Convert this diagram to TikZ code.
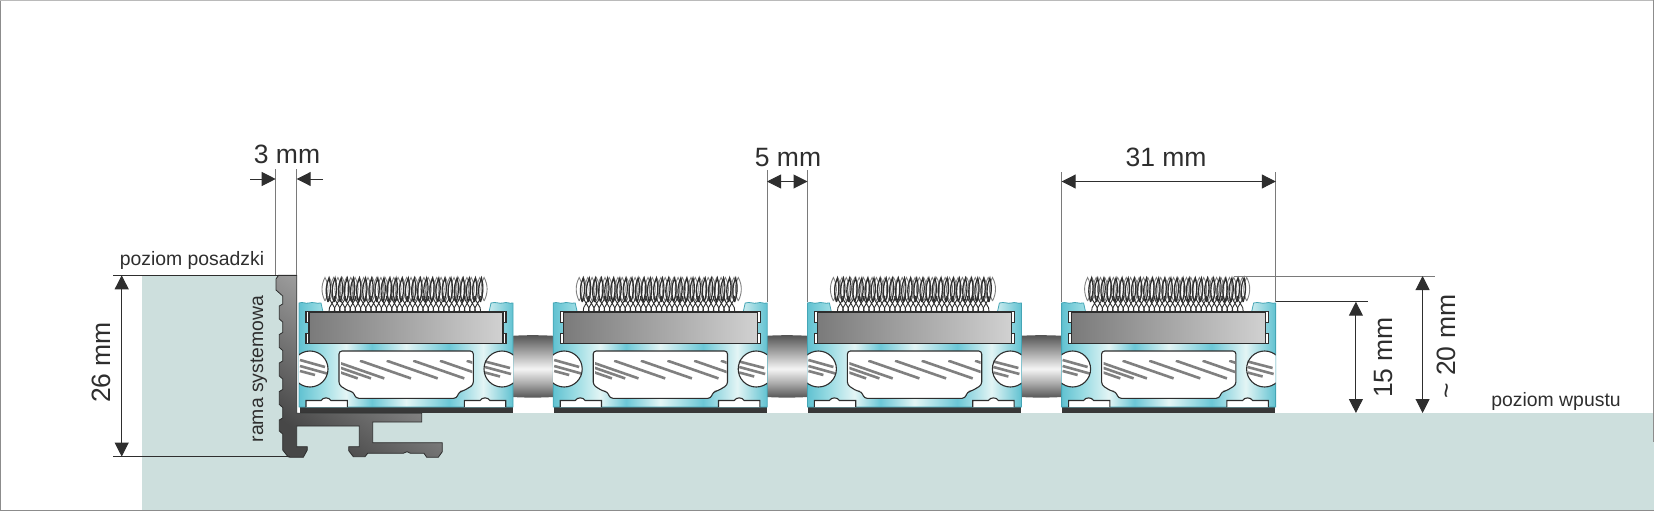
\documentclass[tikz,border=0pt]{standalone}
\usepackage{fontspec}
\setmainfont{Liberation Sans}
\usetikzlibrary{arrows.meta}

\definecolor{grunt}{HTML}{CDDFDD}
\definecolor{ciemny}{HTML}{2E2E2E}
\definecolor{linia}{HTML}{7A7A7A}
\definecolor{ramka}{HTML}{8C8C8C}
\definecolor{brzeg}{HTML}{45A5B5}

\pgfdeclarehorizontalshading{cialo}{100bp}{
  rgb(0bp)=(.38,.76,.82); rgb(25bp)=(.38,.76,.82); rgb(30bp)=(.60,.86,.89); rgb(36bp)=(.89,.96,.96);
  rgb(42bp)=(.42,.78,.84); rgb(50bp)=(.89,.96,.96); rgb(60bp)=(.42,.78,.84);
  rgb(68bp)=(.89,.96,.96); rgb(75bp)=(.38,.76,.82); rgb(100bp)=(.38,.76,.82)}
\pgfdeclareverticalshading{walec}{100bp}{
  rgb(0bp)=(.33,.33,.33); rgb(25bp)=(.33,.33,.33); rgb(37bp)=(.68,.68,.68); rgb(48bp)=(.96,.96,.96);
  rgb(60bp)=(.68,.68,.68); rgb(75bp)=(.33,.33,.33); rgb(100bp)=(.33,.33,.33)}

\tikzset{
  wymiar/.style={font=\fontsize{26.5}{26.5}\selectfont, text=ciemny, anchor=base},
  opis/.style={font=\fontsize{19.4}{19.4}\selectfont, text=ciemny, anchor=base},
  pomocnicza/.style={draw=linia, line width=.9pt},
  poziom/.style={draw=ciemny, line width=.9pt},
  strzalka/.style={draw=ciemny, line width=1pt, -{Triangle[length=14pt,width=14pt]}},
  strzalki/.style={draw=ciemny, line width=1pt, {Triangle[length=14pt,width=14pt]}-{Triangle[length=14pt,width=14pt]}},
  kontur/.style={draw=ciemny, line width=1.1pt},
  kreska/.style={draw=gray, line width=2.6pt},
}

\begin{document}
\begin{tikzpicture}[x=1pt, y=-1pt]
\useasboundingbox (0,0) rectangle (1654,511);

% grunt
\fill[grunt] (142,275.3) -- (296.7,275.3) -- (296.7,413) -- (1654,413) -- (1654,511) -- (142,511) -- cycle;

% ramka obrazka
\draw[ramka, line width=1.4pt] (0.7,0) -- (0.7,511);
\draw[ramka, line width=1.4pt] (0,510.3) -- (1654,510.3);
\draw[ramka!60, line width=1pt] (0,0.5) -- (1654,0.5);
\draw[ramka, line width=1.4pt] (1653.3,0) -- (1653.3,442);

% walce miedzy profilami
\foreach \px in {0,254.2,508.4} {
\begin{scope}[xshift=\px pt]
   \shade[shading=walec] (512.7,335.8) .. controls (525,335) and (540,335) .. (553.5,335.8)
      -- (553.5,397) .. controls (540,397.8) and (525,397.8) .. (512.7,397) -- cycle;
\end{scope}
};

% profile
\foreach \px in {0,254.2,508.4,762.6} {
\begin{scope}[xshift=\px pt]
   \fill[ciemny!95] (299.5,406.5) rectangle (512.7,413);
   \shade[shading=cialo, draw=brzeg, line width=.8pt]
      (299,303) .. controls (303,301.5) and (305,304) .. (309,303)
      .. controls (313,301.5) and (316,304) .. (321,303) -- (323,312) -- (489,312) -- (491,303)
      .. controls (496,301.5) and (499,304) .. (503,303)
      .. controls (507,301.5) and (509,304) .. (513,303)
      -- (513,407) -- (299,407) -- cycle;

   % otwory okragle
   \begin{scope}
   \clip (299,345) rectangle (513,395);
   \fill[white] (310,369) circle (18);
   \fill[white] (502,369) circle (18);
   \draw[kreska] (300,360) -- (325,367);
   \draw[kreska] (300,366) -- (327,373.5);
   \draw[kreska] (300,371) -- (315,375);
   \draw[kreska] (485,361.5) -- (510,368);
   \draw[kreska] (485,367) -- (511,374);
   \draw[kreska] (485,372.5) -- (500,376.5);
   \draw[kontur] (310,369) circle (18);
   \draw[kontur] (502,369) circle (18);
   \end{scope}

   % szczeliny obok wkladki
   \draw[kontur, fill=white] (306,311.7) rectangle (310,322.7);
   \draw[kontur, fill=white] (306,333.3) rectangle (310,343.3);
   \draw[kontur, fill=white] (502,311.7) rectangle (506,322.7);
   \draw[kontur, fill=white] (502,333.3) rectangle (506,343.3);

   % wkladka
   \shade[kontur, left color=black!52, right color=black!18] (309,312) rectangle (503,343.5);

   % okno
   \draw[kontur, fill=white, rounded corners=3pt] (339,351) -- (473.3,351) -- (473.3,385) -- (463.3,391)
      -- (459,391.7) -- (456.7,398.3) -- (355.7,398.3) -- (353.3,391.7) -- (348.3,391) -- (339,385) -- cycle;
   \begin{scope}
   \clip (341,360) rectangle (472.3,379);
   \foreach \s in {-28.3,-15,-1.7,25,51.7,78.3,105,131.7} {
      \draw[kreska] (335+\s,360.7) -- +(51,17.7);
   };
   \end{scope}

   % szczeliny dolne
   \draw[kontur, fill=white] (306,407) -- (306,400.5) -- (321,400.5) .. controls (323,397) and (329,397) .. (331,400.5)
      -- (347.3,400.5) -- (347.3,407);
   \draw[kontur, fill=white] (464.3,407) -- (464.3,400.5) -- (480,400.5) .. controls (482,397) and (488,397) .. (490,400.5)
      -- (505.7,400.5) -- (505.7,407);

   % szczotka
   \foreach \x in {325,329.3,...,485} {
      \draw[gray, line width=.9pt] (\x,301) .. controls (\x-4,293) and (\x-4,285) .. (\x,277.5)
         .. controls (\x+4,285) and (\x+4,293) .. (\x,301);
   };
   \foreach \x in {328,334.1,...,482} {
      \draw[ciemny, line width=1.2pt] (\x,302) .. controls (\x-3,293) and (\x-2,285) .. (\x+1,278)
         .. controls (\x+3,285) and (\x+3,293) .. (\x,302);
   };
   \foreach \x in {329,334.2,...,478} {
      \draw[ciemny, line width=.9pt] (\x,311.5) .. controls (\x-1,306) and (\x+6,302) .. (\x+6,296)
         (\x+6,311.5) .. controls (\x+7,306) and (\x,302) .. (\x,296);
   };
\end{scope}
};

% rama systemowa
\shade[draw=ciemny, line width=.8pt, bottom color=black!72, top color=black!25, shading angle=-35]
   (278.5,275.3) -- (276,279) -- (276,290) -- (282.7,296) -- (282.7,304)
   -- (279.3,306) -- (279.3,319) -- (282.7,322) -- (282.7,332.5)
   -- (279.3,334.5) -- (279.3,347.5) -- (282.7,350.5) -- (282.7,361)
   -- (279.3,363) -- (279.3,376) -- (282.7,379) -- (282.7,389.5)
   -- (279.3,391.5) -- (279.3,404.5) -- (282.7,407.5) -- (282.7,418)
   -- (279.3,420) -- (279.3,431) -- (282.7,434) -- (282.7,450) -- (288,456.7)
   -- (290,457.3) -- (303.3,457.3) -- (307.3,450) -- (307.3,446.7) -- (296.7,446.7)
   -- (296.7,426) -- (359.3,426) -- (359.3,446.7) -- (348.7,446.7) -- (348.7,450.7)
   -- (353.3,456.7) -- (365,456.7) -- (367.7,453.3) -- (403.3,453.3) -- (407,451.7)
   -- (410.5,453.3) -- (424,453.3) -- (426.7,457.3) -- (438.3,457.3) -- (442.3,451.7)
   -- (442.3,442.7) -- (372.7,442.7) -- (372.7,422) -- (421.7,422) -- (421.7,413.3)
   -- (296.7,413.3) -- (296.7,275.3) -- cycle;

% punkty wymiarowe
\coordinate (p3a) at (275.7,169.3);
\coordinate (p3b) at (275.7,275.3);
\coordinate (p3c) at (296.7,169.3);
\coordinate (p3d) at (296.7,275.3);
\coordinate (p5a) at (767,170);
\coordinate (p5b) at (767,302);
\coordinate (p5c) at (807.5,170);
\coordinate (p5d) at (807.5,302);
\coordinate (p31a) at (1061.7,172);
\coordinate (p31b) at (1061.7,302);
\coordinate (p31c) at (1275.8,172);
\coordinate (p31d) at (1275.8,302);
\coordinate (p15a) at (1275.8,301.7);
\coordinate (p15b) at (1368,301.7);
\coordinate (p20a) at (1233.6,276);
\coordinate (p20b) at (1434.7,276);
\coordinate (p26a) at (113,275.3);
\coordinate (p26b) at (296.7,275.3);
\coordinate (p26c) at (113,456.6);
\coordinate (p26d) at (290,456.6);

\draw[pomocnicza] (p3a) -- (p3b);
\draw[pomocnicza] (p3c) -- (p3d);
\draw[pomocnicza] (p5a) -- (p5b);
\draw[pomocnicza] (p5c) -- (p5d);
\draw[pomocnicza] (p31a) -- (p31b);
\draw[pomocnicza] (p31c) -- (p31d);
\draw[poziom] (p15a) -- (p15b);
\draw[pomocnicza] (p20a) -- (p20b);
\draw[poziom] (p26a) -- (p26b);
\draw[poziom] (p26c) -- (p26d);

% strzalki
\coordinate (s3a) at (250,179);
\coordinate (s3b) at (275.7,179);
\coordinate (s3c) at (323,179);
\coordinate (s3d) at (296.7,179);
\coordinate (s5a) at (767,181.5);
\coordinate (s5b) at (807.5,181.5);
\coordinate (s31a) at (1061.7,181.5);
\coordinate (s31b) at (1275.8,181.5);
\coordinate (s15a) at (1355.9,301.7);
\coordinate (s15b) at (1355.9,413);
\coordinate (s20a) at (1422.6,276);
\coordinate (s20b) at (1422.6,413);
\coordinate (s26a) at (121.7,275.3);
\coordinate (s26b) at (121.7,456.6);

\draw[strzalka] (s3a) -- (s3b);
\draw[strzalka] (s3c) -- (s3d);
\draw[strzalki] (s5a) -- (s5b);
\draw[strzalki] (s31a) -- (s31b);
\draw[strzalki] (s15a) -- (s15b);
\draw[strzalki] (s20a) -- (s20b);
\draw[strzalki] (s26a) -- (s26b);

% opisy
\node[wymiar] (w3) at (287,163.3) {3 mm};
\node[wymiar] (w5) at (788,166) {5 mm};
\node[wymiar] (w31) at (1166,166.5) {31 mm};
\node[wymiar, rotate=90] (w26) at (110,362.5) {26 mm};
\node[wymiar, rotate=90] (w15) at (1392,357.5) {15 mm};
\node[wymiar, rotate=90] (w20) at (1455,346.7) {\textasciitilde{} 20 mm};
\node[opis] (posadzka) at (192,265) {poziom posadzki};
\node[opis, rotate=90] (rama) at (263,369) {rama systemowa};
\node[opis] (wpust) at (1556,406.7) {poziom wpustu};

\end{tikzpicture}
\end{document}
